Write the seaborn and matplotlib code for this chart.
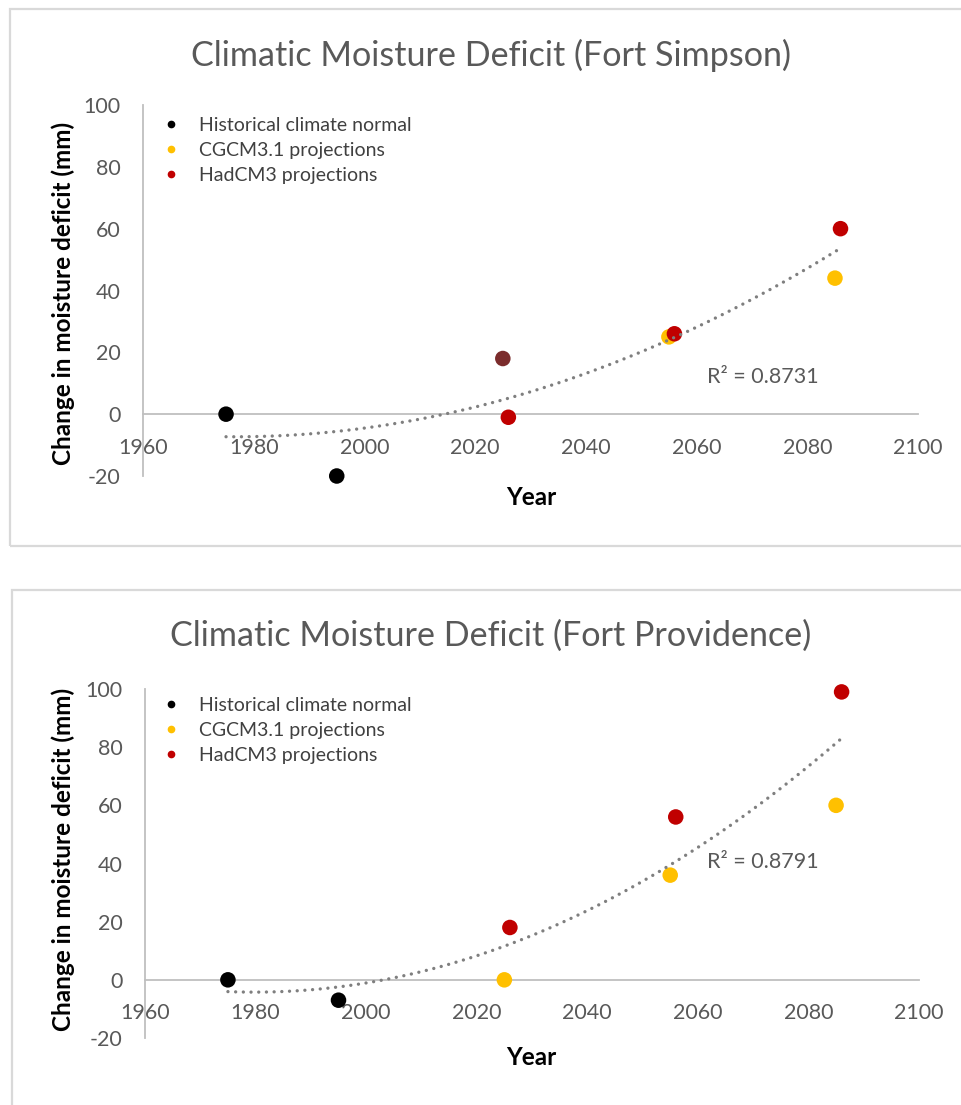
import matplotlib
matplotlib.use("Agg")
import matplotlib.pyplot as plt
from matplotlib.lines import Line2D
from matplotlib.patches import Rectangle
import pandas as pd
import seaborn as sns

# Years of the climate normal and the two model projections
hist_years = [1975, 1995]
cgcm_years = [2025, 2055, 2085]
had_years = [2026, 2056, 2086]

series_names = ["Historical climate normal", "CGCM3.1 projections", "HadCM3 projections"]
series_colours = ["#000000", "#FFC000", "#C00000"]

# Fort Simpson: change in moisture deficit (mm)
simpson_hist = [0, -20]
simpson_cgcm = [18, 25, 44]
simpson_had = [-1, 26, 60]
simpson_cgcm_colours = ["#7B2C2C", "#FFC000", "#FFC000"]  # 2020s point shaded darker
simpson_r2 = "0.8731"

# Fort Providence: change in moisture deficit (mm)
providence_hist = [0, -7]
providence_cgcm = [0, 36, 60]
providence_had = [18, 56, 99]
providence_cgcm_colours = ["#FFC000", "#FFC000", "#FFC000"]
providence_r2 = "0.8791"

x_ticks = [1960, 1980, 2000, 2020, 2040, 2060, 2080, 2100]
y_ticks = [-20, 0, 20, 40, 60, 80, 100]

sns.set_style("white")
plt.rcParams["font.family"] = ["Lato", "DejaVu Sans"]
plt.rcParams["axes.unicode_minus"] = False

W, H = 961, 1105
fig = plt.figure(figsize=(W / 100, H / 100), dpi=100)


def fx(px):
    return px / W


def fy(py):
    return 1 - py / H


def panel(box, axes_px, title, title_y, hist, cgcm, cgcm_cols, had, r2, r2_px,
          legend_px, ylabel_coords, xlabel_coords):
    # light chart-area frame
    x0, y0, x1, y1 = box
    fig.add_artist(Rectangle((fx(x0), fy(y1)), fx(x1 - x0), (y1 - y0) / H,
                             transform=fig.transFigure, fill=False,
                             ec="#D9D9D9", lw=1.6, zorder=0))
    l, t, r, b = axes_px
    ax = fig.add_axes([fx(l), fy(b), fx(r - l), (b - t) / H])
    ax.set_facecolor("none")

    df = pd.DataFrame({
        "year": hist_years + cgcm_years + had_years,
        "value": hist + cgcm + had,
        "colour": [series_colours[0]] * len(hist) + cgcm_cols + [series_colours[2]] * len(had),
    })
    pal = {c: c for c in df["colour"].unique()}
    sns.scatterplot(data=df, x="year", y="value", hue="colour", palette=pal,
                    s=125, linewidth=0, legend=False, ax=ax, zorder=3,
                    clip_on=False)
    # second-order polynomial trendline through all points
    sns.regplot(data=df, x="year", y="value", order=2, ci=None, scatter=False,
                truncate=True, color="#7F7F7F", ax=ax,
                line_kws=dict(lw=2.4, ls=(0, (0.01, 2.3)),
                              dash_capstyle="round", zorder=4))

    ax.set_xlim(1960, 2100)
    ax.set_ylim(-20, 100)
    ax.set_xticks(x_ticks)
    ax.set_yticks(y_ticks)
    ax.set_xticklabels([str(v) for v in x_ticks])
    ax.set_yticklabels([str(v) for v in y_ticks])
    ax.tick_params(axis="x", length=0, pad=17, labelsize=15.5, labelcolor="#595959")
    ax.tick_params(axis="y", length=0, pad=16, labelsize=15.5, labelcolor="#595959")
    for s in ("top", "right"):
        ax.spines[s].set_visible(False)
    ax.spines["bottom"].set_position(("data", 0))
    for s in ("bottom", "left"):
        ax.spines[s].set_color("#BFBFBF")
        ax.spines[s].set_linewidth(1.3)

    ax.set_xlabel("Year", fontsize=17.5, fontweight="bold", color="black", va="center")
    ax.xaxis.set_label_coords(*xlabel_coords)
    ax.set_ylabel("Change in moisture deficit (mm)", fontsize=17.5,
                  fontweight="bold", color="black", va="center")
    ax.yaxis.set_label_coords(*ylabel_coords)

    fig.text(fx(491), fy(title_y), title, ha="center", va="center",
             fontsize=24.6, color="#595959")
    fig.text(fx(r2_px[0]), fy(r2_px[1]), "R² = " + r2, fontsize=15.5,
             color="#595959", ha="left", va="center")

    handles = [Line2D([], [], marker="o", ls="", color=c, markersize=4.5)
               for c in series_colours]
    ax.legend(handles, series_names, loc="upper left",
              bbox_to_anchor=(fx(legend_px[0]), fy(legend_px[1])),
              bbox_transform=fig.transFigure, frameon=False, fontsize=14,
              labelcolor="#404040", handlelength=1.0, handletextpad=0.95,
              labelspacing=0.4, borderpad=0, borderaxespad=0)
    return ax


ax1 = panel((10, 9, 975, 546), (143, 105, 918, 476),
            "Climatic Moisture Deficit (Fort Simpson)", 55,
            simpson_hist, simpson_cgcm, simpson_cgcm_colours, simpson_had,
            simpson_r2, (707, 377), (161, 117),
            (-0.103, 0.493), (0.5006, -0.057))
ax2 = panel((12, 590, 975, 1120), (145, 689, 919, 1038),
            "Climatic Moisture Deficit (Fort Providence)", 636,
            providence_hist, providence_cgcm, providence_cgcm_colours, providence_had,
            providence_r2, (707, 862), (161, 697),
            (-0.106, 0.513), (0.4987, -0.057))

fig.savefig("out.png", dpi=100)
